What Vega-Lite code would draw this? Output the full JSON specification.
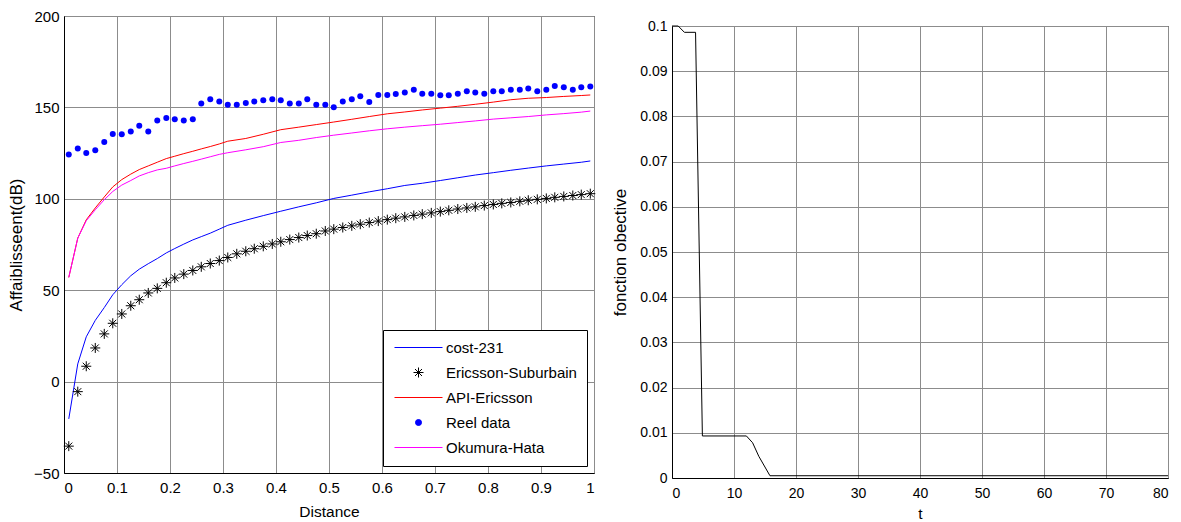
{
  "$schema": "https://vega.github.io/schema/vega-lite/v6.json",
  "padding": {"left": 7, "top": 8, "right": 5, "bottom": 5},
  "background": "white",
  "spacing": 13,
  "resolve": {"legend": {"color": "independent"}},
  "config": {
    "font": "Liberation Sans",
    "view": {"stroke": "black", "strokeWidth": 1},
    "axis": {
      "domainColor": "black", "labelColor": "black", "titleColor": "black",
      "ticks": false, "gridColor": "#8c8c8c", "gridOpacity": 1, "gridWidth": 1,
      "labelFont": "Liberation Sans", "titleFont": "Liberation Sans", "titleFontWeight": "normal"
    }
  },
  "datasets": {
    "models": [
      {"d": 0.009, "cost-231": -20.4, "API-Ericsson": 57, "Okumura-Hata": 57},
      {"d": 0.026, "cost-231": 9.7, "API-Ericsson": 78.5, "Okumura-Hata": 78.5},
      {"d": 0.042, "cost-231": 24.5, "API-Ericsson": 88.5, "Okumura-Hata": 88},
      {"d": 0.059, "cost-231": 33.5, "API-Ericsson": 95, "Okumura-Hata": 94},
      {"d": 0.076, "cost-231": 40.5, "API-Ericsson": 101, "Okumura-Hata": 99.5},
      {"d": 0.092, "cost-231": 47.5, "API-Ericsson": 106.5, "Okumura-Hata": 104},
      {"d": 0.109, "cost-231": 53, "API-Ericsson": 110.5, "Okumura-Hata": 107.5},
      {"d": 0.126, "cost-231": 57.9, "API-Ericsson": 113.5, "Okumura-Hata": 110},
      {"d": 0.142, "cost-231": 61.5, "API-Ericsson": 116, "Okumura-Hata": 112.5},
      {"d": 0.159, "cost-231": 64.5, "API-Ericsson": 118, "Okumura-Hata": 114.3},
      {"d": 0.176, "cost-231": 67.3, "API-Ericsson": 120, "Okumura-Hata": 115.8},
      {"d": 0.193, "cost-231": 70.4, "API-Ericsson": 122, "Okumura-Hata": 116.7},
      {"d": 0.209, "cost-231": 72.8, "API-Ericsson": 123.3, "Okumura-Hata": 118},
      {"d": 0.226, "cost-231": 75.2, "API-Ericsson": 124.7, "Okumura-Hata": 119.3},
      {"d": 0.243, "cost-231": 77.5, "API-Ericsson": 126, "Okumura-Hata": 120.5},
      {"d": 0.259, "cost-231": 79.3, "API-Ericsson": 127.3, "Okumura-Hata": 121.7},
      {"d": 0.276, "cost-231": 81.2, "API-Ericsson": 128.6, "Okumura-Hata": 123},
      {"d": 0.293, "cost-231": 83.4, "API-Ericsson": 130, "Okumura-Hata": 124.3},
      {"d": 0.309, "cost-231": 85.5, "API-Ericsson": 131.5, "Okumura-Hata": 125.2},
      {"d": 0.343, "cost-231": 88.3, "API-Ericsson": 133, "Okumura-Hata": 126.8},
      {"d": 0.376, "cost-231": 90.8, "API-Ericsson": 135.3, "Okumura-Hata": 128.5},
      {"d": 0.409, "cost-231": 93.2, "API-Ericsson": 137.8, "Okumura-Hata": 130.8},
      {"d": 0.443, "cost-231": 95.6, "API-Ericsson": 139.2, "Okumura-Hata": 132},
      {"d": 0.476, "cost-231": 97.8, "API-Ericsson": 140.6, "Okumura-Hata": 133.5},
      {"d": 0.509, "cost-231": 100.2, "API-Ericsson": 142, "Okumura-Hata": 134.8},
      {"d": 0.543, "cost-231": 102, "API-Ericsson": 143.5, "Okumura-Hata": 136},
      {"d": 0.576, "cost-231": 103.8, "API-Ericsson": 145, "Okumura-Hata": 137.2},
      {"d": 0.61, "cost-231": 105.5, "API-Ericsson": 146.5, "Okumura-Hata": 138.3},
      {"d": 0.643, "cost-231": 107.3, "API-Ericsson": 147.5, "Okumura-Hata": 139.2},
      {"d": 0.676, "cost-231": 108.5, "API-Ericsson": 148.6, "Okumura-Hata": 140},
      {"d": 0.71, "cost-231": 110, "API-Ericsson": 149.6, "Okumura-Hata": 140.8},
      {"d": 0.743, "cost-231": 111.5, "API-Ericsson": 150.6, "Okumura-Hata": 141.7},
      {"d": 0.776, "cost-231": 113, "API-Ericsson": 151.7, "Okumura-Hata": 142.6},
      {"d": 0.81, "cost-231": 114.3, "API-Ericsson": 152.9, "Okumura-Hata": 143.6},
      {"d": 0.843, "cost-231": 115.6, "API-Ericsson": 154.2, "Okumura-Hata": 144.3},
      {"d": 0.876, "cost-231": 116.8, "API-Ericsson": 155, "Okumura-Hata": 145},
      {"d": 0.91, "cost-231": 118, "API-Ericsson": 155.4, "Okumura-Hata": 145.9},
      {"d": 0.943, "cost-231": 119, "API-Ericsson": 156, "Okumura-Hata": 146.6},
      {"d": 0.976, "cost-231": 120, "API-Ericsson": 156.5, "Okumura-Hata": 147.4},
      {"d": 0.993, "cost-231": 120.7, "API-Ericsson": 156.8, "Okumura-Hata": 148}
    ],
    "points": [
      {"d": 0.009, "Reel data": 124.3, "Ericsson-Suburbain": -35.3},
      {"d": 0.026, "Reel data": 127.5, "Ericsson-Suburbain": -5.5},
      {"d": 0.042, "Reel data": 125.1, "Ericsson-Suburbain": 8.4},
      {"d": 0.059, "Reel data": 126.5, "Ericsson-Suburbain": 18.4},
      {"d": 0.076, "Reel data": 131.1, "Ericsson-Suburbain": 26.1},
      {"d": 0.092, "Reel data": 135.5, "Ericsson-Suburbain": 31.9},
      {"d": 0.109, "Reel data": 135.3, "Ericsson-Suburbain": 37.0},
      {"d": 0.126, "Reel data": 136.8, "Ericsson-Suburbain": 41.5},
      {"d": 0.142, "Reel data": 139.9, "Ericsson-Suburbain": 44.8},
      {"d": 0.159, "Reel data": 136.8, "Ericsson-Suburbain": 48.5},
      {"d": 0.176, "Reel data": 142.8, "Ericsson-Suburbain": 51.0},
      {"d": 0.193, "Reel data": 144.2, "Ericsson-Suburbain": 54.1},
      {"d": 0.209, "Reel data": 143.5, "Ericsson-Suburbain": 56.7},
      {"d": 0.226, "Reel data": 142.8, "Ericsson-Suburbain": 58.8},
      {"d": 0.243, "Reel data": 143.5, "Ericsson-Suburbain": 60.8},
      {"d": 0.259, "Reel data": 152.2, "Ericsson-Suburbain": 62.8},
      {"d": 0.276, "Reel data": 154.4, "Ericsson-Suburbain": 64.6},
      {"d": 0.293, "Reel data": 153.2, "Ericsson-Suburbain": 66.2},
      {"d": 0.309, "Reel data": 151.5, "Ericsson-Suburbain": 67.9},
      {"d": 0.326, "Reel data": 151.5, "Ericsson-Suburbain": 69.9},
      {"d": 0.343, "Reel data": 152.4, "Ericsson-Suburbain": 71.3},
      {"d": 0.359, "Reel data": 153.2, "Ericsson-Suburbain": 72.7},
      {"d": 0.376, "Reel data": 153.9, "Ericsson-Suburbain": 74.0},
      {"d": 0.393, "Reel data": 154.4, "Ericsson-Suburbain": 75.3},
      {"d": 0.409, "Reel data": 153.9, "Ericsson-Suburbain": 76.5},
      {"d": 0.426, "Reel data": 152.2, "Ericsson-Suburbain": 77.7},
      {"d": 0.443, "Reel data": 152.2, "Ericsson-Suburbain": 78.8},
      {"d": 0.459, "Reel data": 154.4, "Ericsson-Suburbain": 79.9},
      {"d": 0.476, "Reel data": 151.5, "Ericsson-Suburbain": 80.9},
      {"d": 0.493, "Reel data": 151.5, "Ericsson-Suburbain": 82.4},
      {"d": 0.509, "Reel data": 150.1, "Ericsson-Suburbain": 83.4},
      {"d": 0.526, "Reel data": 153.2, "Ericsson-Suburbain": 84.3},
      {"d": 0.543, "Reel data": 154.4, "Ericsson-Suburbain": 85.2},
      {"d": 0.559, "Reel data": 156.1, "Ericsson-Suburbain": 86.1},
      {"d": 0.576, "Reel data": 153.0, "Ericsson-Suburbain": 87.0},
      {"d": 0.593, "Reel data": 156.8, "Ericsson-Suburbain": 87.8},
      {"d": 0.61, "Reel data": 156.8, "Ericsson-Suburbain": 88.6},
      {"d": 0.626, "Reel data": 157.3, "Ericsson-Suburbain": 89.4},
      {"d": 0.643, "Reel data": 158.2, "Ericsson-Suburbain": 90.1},
      {"d": 0.66, "Reel data": 159.7, "Ericsson-Suburbain": 90.9},
      {"d": 0.676, "Reel data": 157.4, "Ericsson-Suburbain": 91.6},
      {"d": 0.693, "Reel data": 157.4, "Ericsson-Suburbain": 92.3},
      {"d": 0.71, "Reel data": 156.6, "Ericsson-Suburbain": 93.0},
      {"d": 0.726, "Reel data": 156.6, "Ericsson-Suburbain": 93.7},
      {"d": 0.743, "Reel data": 157.4, "Ericsson-Suburbain": 94.4},
      {"d": 0.76, "Reel data": 158.8, "Ericsson-Suburbain": 95.0},
      {"d": 0.776, "Reel data": 158.2, "Ericsson-Suburbain": 95.6},
      {"d": 0.793, "Reel data": 157.4, "Ericsson-Suburbain": 96.3},
      {"d": 0.81, "Reel data": 158.8, "Ericsson-Suburbain": 96.9},
      {"d": 0.826, "Reel data": 158.8, "Ericsson-Suburbain": 97.5},
      {"d": 0.843, "Reel data": 159.7, "Ericsson-Suburbain": 98.0},
      {"d": 0.86, "Reel data": 159.7, "Ericsson-Suburbain": 98.6},
      {"d": 0.876, "Reel data": 160.4, "Ericsson-Suburbain": 99.2},
      {"d": 0.893, "Reel data": 158.8, "Ericsson-Suburbain": 99.7},
      {"d": 0.91, "Reel data": 159.7, "Ericsson-Suburbain": 100.2},
      {"d": 0.926, "Reel data": 161.7, "Ericsson-Suburbain": 100.8},
      {"d": 0.943, "Reel data": 161.0, "Ericsson-Suburbain": 101.3},
      {"d": 0.96, "Reel data": 159.7, "Ericsson-Suburbain": 101.8},
      {"d": 0.976, "Reel data": 161.0, "Ericsson-Suburbain": 102.3},
      {"d": 0.993, "Reel data": 161.5, "Ericsson-Suburbain": 102.8}
    ],
    "obj": [
      {"t": 0, "f": 0.1},
      {"t": 1, "f": 0.1},
      {"t": 2, "f": 0.0986},
      {"t": 3.8, "f": 0.0986},
      {"t": 4.9, "f": 0.0093},
      {"t": 12, "f": 0.0093},
      {"t": 13, "f": 0.0078},
      {"t": 14, "f": 0.0048},
      {"t": 15.8, "f": 0.0005},
      {"t": 80, "f": 0.0005}
    ],
    "spacer": [{"k": 0}]
  },
  "hconcat": [
    {
      "width": 530,
      "height": 457,
      "encoding": {
        "x": {"field": "d", "type": "quantitative", "scale": {"domain": [0, 1], "nice": false},
          "axis": {"title": "Distance", "values": [0, 0.1, 0.2, 0.3, 0.4, 0.5, 0.6, 0.7, 0.8, 0.9, 1], "format": ".1~f",
            "labelFontSize": 15, "titleFontSize": 15.5, "labelPadding": 7, "titlePadding": 9, "grid": true}},
        "y": {"field": "v", "type": "quantitative", "scale": {"domain": [-50, 200], "nice": false},
          "axis": {"title": "Affaiblisseent(dB)", "values": [-50, 0, 50, 100, 150, 200],
            "labelFontSize": 15, "titleFontSize": 17, "labelPadding": 5, "titlePadding": 8, "grid": true}},
        "color": {"field": "s", "type": "nominal",
          "scale": {"domain": ["cost-231", "Ericsson-Suburbain", "API-Ericsson", "Reel data", "Okumura-Hata"],
            "range": ["#0000ff", "#000000", "#ff0000", "#0000ff", "#ff00ff"]},
          "legend": {"title": null, "orient": "bottom-right", "offset": 7, "strokeColor": "black", "fillColor": "white",
            "padding": 10, "labelFontSize": 15, "labelFont": "Liberation Sans", "labelColor": "black",
            "symbolSize": 100, "symbolOffset": 18, "labelOffset": 20, "rowPadding": 9, "symbolStrokeWidth": 1,
            "encode": {"symbols": {"update": {
              "shape": {"signal": "datum.value === 'Reel data' ? 'circle' : datum.value === 'Ericsson-Suburbain' ? 'M-1,0L1,0M0,-1L0,1M-0.7,-0.7L0.7,0.7M-0.7,0.7L0.7,-0.7' : 'M-4.8,0L4.8,0'"},
              "fill": {"signal": "datum.value === 'Reel data' ? '#0000ff' : 'transparent'"},
              "stroke": {"signal": "datum.value === 'API-Ericsson' ? '#ff0000' : datum.value === 'Okumura-Hata' ? '#ff00ff' : datum.value === 'Ericsson-Suburbain' ? '#000000' : '#0000ff'"},
              "size": {"signal": "datum.value === 'Reel data' ? 36 : 100"},
              "strokeWidth": {"value": 1},
              "opacity": {"value": 1}
            }}}}
        }
      },
      "layer": [
        {
          "data": {"name": "models"},
          "transform": [{"fold": ["cost-231", "API-Ericsson", "Okumura-Hata"], "as": ["s", "v"]}],
          "mark": {"type": "line", "strokeWidth": 1}
        },
        {
          "data": {"name": "points"},
          "transform": [{"fold": ["Reel data"], "as": ["s", "v"]}],
          "mark": {"type": "point", "filled": true, "shape": "circle", "size": 36, "opacity": 1}
        },
        {
          "data": {"name": "points"},
          "transform": [{"fold": ["Ericsson-Suburbain"], "as": ["s", "v"]}],
          "mark": {"type": "point", "filled": false, "shape": "M-1,0L1,0M0,-1L0,1M-0.7,-0.7L0.7,0.7M-0.7,0.7L0.7,-0.7", "size": 100, "strokeWidth": 1, "opacity": 1}
        }
      ]
    },
    {
      "spacing": 1,
      "vconcat": [
        {
          "width": 496,
          "height": 1,
          "view": {"stroke": null},
          "data": {"name": "spacer"},
          "mark": {"type": "point", "opacity": 0, "size": 1}
        },
        {
          "width": 496,
          "height": 452,
          "data": {"name": "obj"},
          "mark": {"type": "line", "color": "black", "strokeWidth": 1},
          "encoding": {
            "x": {"field": "t", "type": "quantitative", "scale": {"domain": [0, 80], "nice": false},
              "axis": {"title": "t", "values": [0, 10, 20, 30, 40, 50, 60, 70, 80], "labelFontSize": 14, "titleFontSize": 15.5,
                "labelPadding": 8, "titlePadding": 6, "grid": true}},
            "y": {"field": "f", "type": "quantitative", "scale": {"domain": [0, 0.1], "nice": false},
              "axis": {"title": "fonction obective", "values": [0, 0.01, 0.02, 0.03, 0.04, 0.05, 0.06, 0.07, 0.08, 0.09, 0.1], "format": ".2~f",
                "labelFontSize": 14, "titleFontSize": 17, "labelPadding": 5, "titlePadding": 10, "grid": true}}
          }
        }
      ]
    }
  ]
}
